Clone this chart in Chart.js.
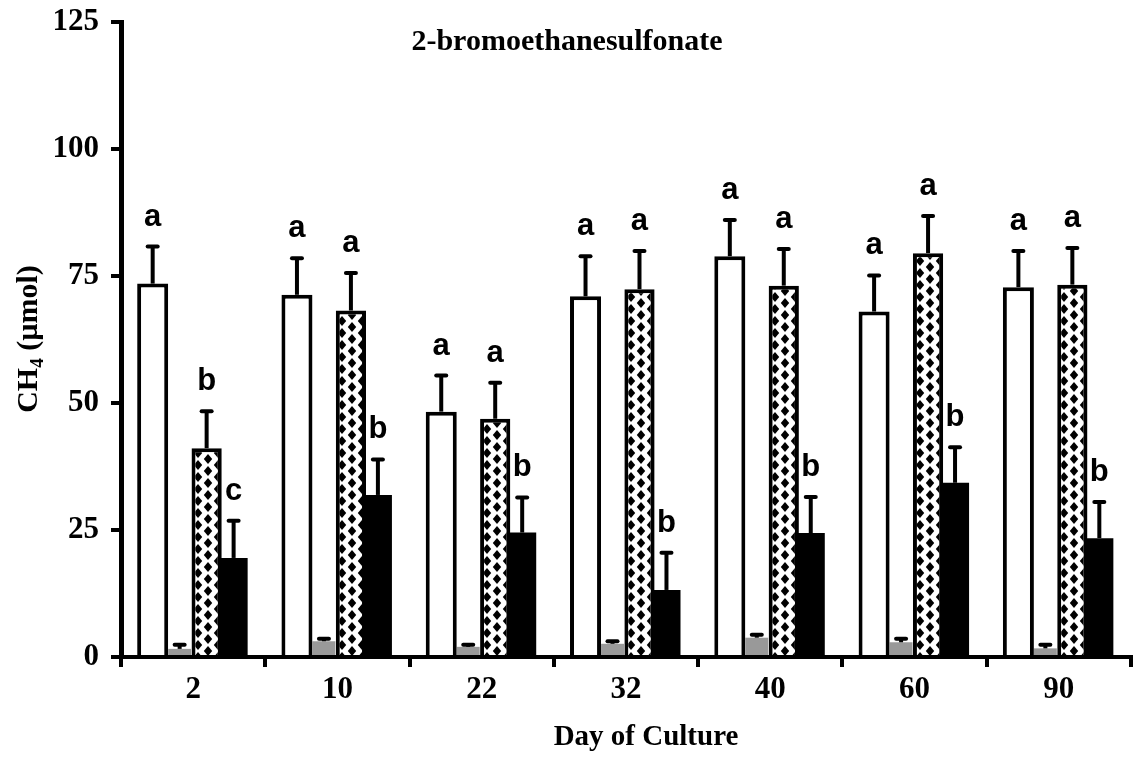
<!DOCTYPE html>
<html>
<head>
<meta charset="utf-8">
<script src="https://cdn.jsdelivr.net/npm/chart.js@4.4.1/dist/chart.umd.min.js"></script>
<style>
  html, body { margin: 0; padding: 0; background: #fff; }
  #wrap { width: 1133px; height: 759px; }
</style>
</head>
<body>
<div id="wrap"><canvas id="c" width="1133" height="759"></canvas></div>
<script>
// Days of culture on the x axis
const days = ['2', '10', '22', '32', '40', '60', '90'];

// Mean CH4 (µmol) per treatment
const controlMeans  = [73.5, 71.3, 48.3, 71.0, 78.9, 68.0, 72.8];
const besMeans      = [1.6, 3.1, 2.0, 2.6, 3.8, 2.9, 1.7];
const mixMeans      = [41.1, 68.2, 46.9, 72.4, 73.1, 79.5, 73.3];
const darkMeans     = [19.5, 31.9, 24.5, 13.2, 24.4, 34.3, 23.4];

// Standard errors (upper whiskers only)
const controlErr = [7.3, 7.2, 7.1, 7.9, 7.1, 7.1, 7.1];
const besErr     = [0.8, 0.5, 0.4, 0.5, 0.6, 0.7, 0.7];
const mixErr     = [7.3, 7.4, 7.1, 7.5, 7.2, 7.3, 7.2];
const darkErr    = [7.3, 7.0, 6.9, 7.3, 7.1, 7.0, 7.1];

// Significance letters (empty = none shown)
const controlLetters = ['a', 'a', 'a', 'a', 'a', 'a', 'a'];
const besLetters     = ['', '', '', '', '', '', ''];
const mixLetters     = ['b', 'a', 'a', 'a', 'a', 'a', 'a'];
const darkLetters    = ['c', 'b', 'b', 'b', 'b', 'b', 'b'];

// Y axis ticks
const yTicks = [0, 25, 50, 75, 100, 125];

// Diamond checker tile: two staggered columns of diamonds, 10 px apart
function diamondTile() {
  const w = 20, h = 12;
  const cv = document.createElement('canvas');
  cv.width = w; cv.height = h;
  const g = cv.getContext('2d');
  g.fillStyle = '#fff';
  g.fillRect(0, 0, w, h);
  g.fillStyle = '#000';
  const dx = 4.2, dy = 4.9;
  const centers = [[5, 0], [5, h], [15, h / 2]];
  centers.forEach(([cx, cy]) => {
    g.beginPath();
    g.moveTo(cx, cy - dy);
    g.lineTo(cx + dx, cy);
    g.lineTo(cx, cy + dy);
    g.lineTo(cx - dx, cy);
    g.closePath();
    g.fill();
  });
  return cv;
}
const tile = diamondTile();
const patternCache = {};
function patternFor(ctx) {
  const chart = ctx.chart;
  const meta = chart.getDatasetMeta(ctx.datasetIndex);
  const bar = meta.data[ctx.dataIndex];
  let cx = bar && isFinite(bar.x) ? bar.x : chart.scales.x.getPixelForValue(ctx.dataIndex);
  const key = Math.round(cx);
  if (!patternCache[key]) {
    const p = chart.ctx.createPattern(tile, 'repeat');
    p.setTransform(new DOMMatrix().translate(key - 10, 657 - 6));
    patternCache[key] = p;
  }
  return patternCache[key];
}

const errs = [controlErr, besErr, mixErr, darkErr];
const letters = [controlLetters, besLetters, mixLetters, darkLetters];

const serif = "'Liberation Serif', 'Times New Roman', serif";
const sans = "'Liberation Sans', Arial, sans-serif";

// Whiskers, caps and letters above each bar
const errorBarPlugin = {
  id: 'errorBars',
  afterDatasetsDraw(chart) {
    const ctx = chart.ctx;
    const y = chart.scales.y;
    chart.data.datasets.forEach((ds, di) => {
      const meta = chart.getDatasetMeta(di);
      meta.data.forEach((bar, i) => {
        const v = ds.data[i];
        const top = y.getPixelForValue(v + errs[di][i]);
        ctx.save();
        ctx.strokeStyle = '#000';
        ctx.lineWidth = 4;
        ctx.lineCap = 'butt';
        ctx.beginPath();
        ctx.moveTo(bar.x, bar.y);
        ctx.lineTo(bar.x, top);
        ctx.stroke();
        ctx.lineCap = 'round';
        ctx.beginPath();
        ctx.moveTo(bar.x - 5, top);
        ctx.lineTo(bar.x + 5, top);
        ctx.stroke();
        const t = letters[di][i];
        if (t) {
          ctx.fillStyle = '#000';
          ctx.font = 'bold 31px ' + sans;
          ctx.textAlign = 'center';
          ctx.textBaseline = 'alphabetic';
          ctx.fillText(t, bar.x, top - 21);
        }
        ctx.restore();
      });
    });
  }
};

// Chart heading and axis titles
const textPlugin = {
  id: 'texts',
  afterDraw(chart) {
    const ctx = chart.ctx;
    ctx.save();
    ctx.fillStyle = '#000';
    ctx.textBaseline = 'alphabetic';
    ctx.textAlign = 'center';
    ctx.font = 'bold 30px ' + serif;
    ctx.fillText('2-bromoethanesulfonate', 567, 50);

    ctx.font = 'bold 29px ' + serif;
    ctx.fillText('Day of Culture', 646, 745);

    // Rotated y title with subscript
    ctx.translate(37, 339);
    ctx.rotate(-Math.PI / 2);
    const big = 'bold 30px ' + serif;
    const small = 'bold 19px ' + serif;
    ctx.font = big;
    const w1 = ctx.measureText('CH').width;
    const w3 = ctx.measureText(' (µmol)').width;
    ctx.font = small;
    const w2 = ctx.measureText('4').width;
    let x = -(w1 + w2 + w3) / 2;
    ctx.textAlign = 'left';
    ctx.font = big;
    ctx.fillText('CH', x, 0);
    x += w1;
    ctx.font = small;
    ctx.fillText('4', x, 6);
    x += w2;
    ctx.font = big;
    ctx.fillText(' (µmol)', x, 0);
    ctx.restore();
  }
};

const catPct = 0.748;

new Chart(document.getElementById('c'), {
  type: 'bar',
  data: {
    labels: days,
    datasets: [
      { label: 'Control', data: controlMeans, backgroundColor: '#fff', borderColor: '#000', borderWidth: 4, barPercentage: 1.15, categoryPercentage: catPct },
      { label: 'BES', data: besMeans, backgroundColor: '#999', borderColor: '#999', borderWidth: 0, barPercentage: 0.85, categoryPercentage: catPct },
      { label: 'Mixed', data: mixMeans, backgroundColor: patternFor, borderColor: '#000', borderWidth: 4, barPercentage: 1.12, categoryPercentage: catPct },
      { label: 'Dark', data: darkMeans, backgroundColor: '#000', borderColor: '#000', borderWidth: 0, barPercentage: 1.04, categoryPercentage: catPct }
    ]
  },
  options: {
    responsive: false,
    devicePixelRatio: 1,
    animation: false,
    layout: { padding: { top: 22, right: 2, left: 0, bottom: 0 } },
    plugins: { legend: { display: false }, tooltip: { enabled: false }, title: { display: false } },
    scales: {
      x: {
        grid: { display: true, drawOnChartArea: false, drawTicks: true, tickLength: 10, color: '#000', lineWidth: 4, offset: true },
        border: { display: true, color: '#000', width: 4 },
        ticks: { color: '#000', font: { family: serif, size: 31, weight: 'bold' }, padding: 4, maxRotation: 0 },
        afterFit(scale) {
          scale.height = 102;
          scale.paddingLeft = 0; scale.paddingRight = 0;
        }
      },
      y: {
        min: 0, max: 125,
        afterBuildTicks(scale) { scale.ticks = yTicks.map(v => ({ value: v })); },
        grid: { display: true, drawOnChartArea: false, drawTicks: true, tickLength: 10, color: '#000', lineWidth: 4 },
        border: { display: true, color: '#000', width: 5 },
        ticks: { color: '#000', font: { family: serif, size: 31, weight: 'bold', lineHeight: 1.0 }, padding: 12 },
        afterFit(scale) {
          scale.width = 121;
          scale.paddingTop = 0; scale.paddingBottom = 0;
        }
      }
    }
  },
  plugins: [errorBarPlugin, textPlugin]
});
</script>
</body>
</html>
